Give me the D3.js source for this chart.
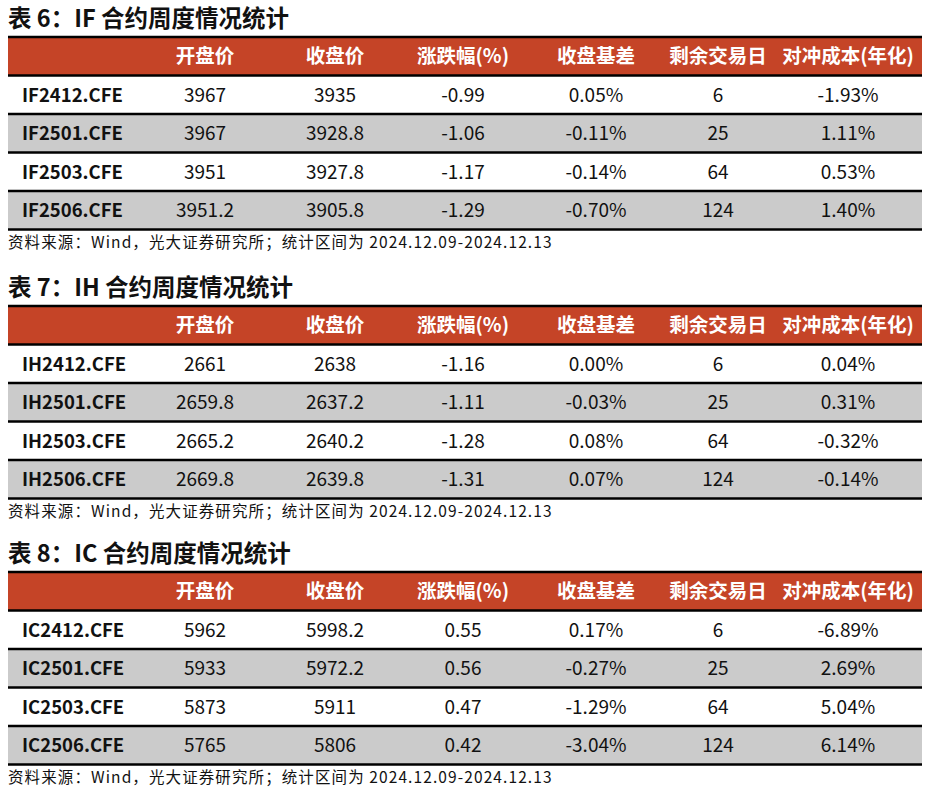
<!DOCTYPE html>
<html><head><meta charset="utf-8">
<script src="https://cdn.jsdelivr.net/npm/d3@7"></script>
<style>body{margin:0;background:#fff}svg{display:block}text{font-family:"Noto Sans CJK SC","Noto Sans",sans-serif}</style>
</head><body><svg id="c" width="935" height="795"></svg>
<script>
const headers = ["开盘价","收盘价","涨跌幅(%)","收盘基差","剩余交易日","对冲成本(年化)"];
const titles = ["表 6：IF 合约周度情况统计","表 7：IH 合约周度情况统计","表 8：IC 合约周度情况统计"];
const source = "资料来源：Wind，光大证券研究所；统计区间为 2024.12.09-2024.12.13";
const ifContracts = ["IF2412.CFE","IF2501.CFE","IF2503.CFE","IF2506.CFE"];
const ifOpen = ["3967","3967","3951","3951.2"];
const ifClose = ["3935","3928.8","3927.8","3905.8"];
const ifChg = ["-0.99","-1.06","-1.17","-1.29"];
const ifBasis = ["0.05%","-0.11%","-0.14%","-0.70%"];
const ifDays = ["6","25","64","124"];
const ifHedge = ["-1.93%","1.11%","0.53%","1.40%"];
const ihContracts = ["IH2412.CFE","IH2501.CFE","IH2503.CFE","IH2506.CFE"];
const ihOpen = ["2661","2659.8","2665.2","2669.8"];
const ihClose = ["2638","2637.2","2640.2","2639.8"];
const ihChg = ["-1.16","-1.11","-1.28","-1.31"];
const ihBasis = ["0.00%","-0.03%","0.08%","0.07%"];
const ihDays = ["6","25","64","124"];
const ihHedge = ["0.04%","0.31%","-0.32%","-0.14%"];
const icContracts = ["IC2412.CFE","IC2501.CFE","IC2503.CFE","IC2506.CFE"];
const icOpen = ["5962","5933","5873","5765"];
const icClose = ["5998.2","5972.2","5911","5806"];
const icChg = ["0.55","0.56","0.47","0.42"];
const icBasis = ["0.17%","-0.27%","-1.29%","-3.04%"];
const icDays = ["6","25","64","124"];
const icHedge = ["-6.89%","2.69%","5.04%","6.14%"];

const tables = [
  [ifContracts, ifOpen, ifClose, ifChg, ifBasis, ifDays, ifHedge],
  [ihContracts, ihOpen, ihClose, ihChg, ihBasis, ihDays, ihHedge],
  [icContracts, icOpen, icClose, icChg, icBasis, icDays, icHedge]
];
const svg = d3.select("#c");
const L = 8, R = 922;
const colX = d3.scaleOrdinal().domain(d3.range(7)).range([22,205,335,463,596,718,848]);
const offsets = [0, 269, 535];
tables.forEach((cols, ti) => {
  const g = svg.append("g").attr("transform", `translate(0,${offsets[ti]})`);
  g.append("text").attr("x",8).attr("y",27).attr("font-size",23.5).attr("font-weight","bold").attr("fill","#111").text(titles[ti]);
  const y = d3.scaleBand().domain(d3.range(5)).range([37, 229.5]);
  g.append("rect").attr("x",L).attr("y",y(0)).attr("width",R-L).attr("height",y.bandwidth()).attr("fill","#C54427");
  g.selectAll("rect.row").data(d3.range(1,5)).join("rect").attr("class","row")
    .attr("x",L).attr("y",d=>y(d)).attr("width",R-L).attr("height",y.bandwidth())
    .attr("fill",d=> d%2===0 ? "#CBCBCB" : "#fff");
  g.selectAll("line.sep").data(d3.range(6)).join("line").attr("class","sep")
    .attr("x1",L).attr("x2",R).attr("y1",d=> d<5 ? y(d) : y(4)+y.bandwidth()).attr("y2",d=> d<5 ? y(d) : y(4)+y.bandwidth())
    .attr("stroke","#000").attr("stroke-width",2.5);
  g.selectAll("text.h").data(headers).join("text").attr("class","h")
    .attr("x",(d,i)=>colX(i+1)).attr("y",y(0)+y.bandwidth()/2+7).attr("text-anchor","middle")
    .attr("font-size",19.5).attr("font-weight","bold").attr("fill","#fff").text(d=>d);
  cols.forEach((vals, ci) => {
    g.selectAll("text.c"+ci).data(vals).join("text").attr("class","c"+ci)
      .attr("x",colX(ci)).attr("y",(d,i)=>y(i+1)+y.bandwidth()/2+7)
      .attr("text-anchor", ci===0 ? "start" : "middle")
      .attr("font-size",ci===0 ? 18.5 : 19).attr("font-weight", ci===0 ? "bold" : "normal").attr("fill","#111").text(d=>d);
  });
  g.append("text").attr("x",8).attr("y",248).attr("font-size",15.5).attr("letter-spacing",1.1).attr("fill","#111").text(source);
});
</script></body></html>
